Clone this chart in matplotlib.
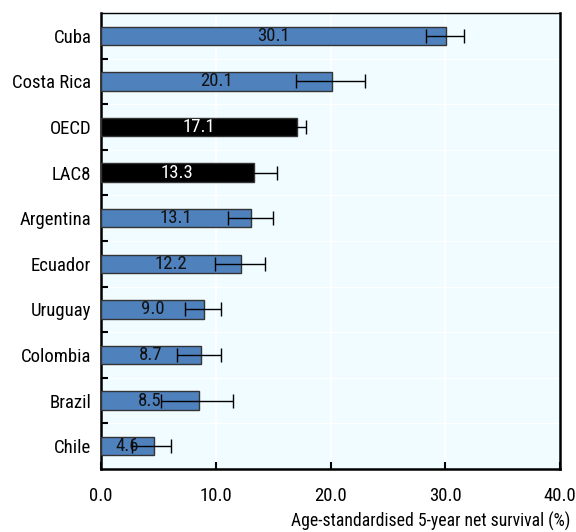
import matplotlib
matplotlib.use("Agg")
import matplotlib.pyplot as plt
from matplotlib.ticker import FixedLocator, FormatStrFormatter

countries = ["Cuba", "Costa Rica", "OECD", "LAC8", "Argentina",
             "Ecuador", "Uruguay", "Colombia", "Brazil", "Chile"]
survival = [30.1, 20.1, 17.1, 13.3, 13.1, 12.2, 9.0, 8.7, 8.5, 4.6]
ci_low = [28.3, 17.0, 16.3, 11.3, 11.1, 9.9, 7.3, 6.6, 5.2, 2.7]
ci_high = [31.6, 23.0, 17.9, 15.3, 15.0, 14.3, 10.5, 10.5, 11.5, 6.1]
aggregates = ["OECD", "LAC8"]

plt.rcParams["font.family"] = ["Roboto Condensed", "Liberation Sans Narrow",
                               "Liberation Sans", "DejaVu Sans"]
plt.rcParams["font.stretch"] = "condensed"

fig = plt.figure(figsize=(5.76, 5.32), dpi=100)
ax = fig.add_axes([101 / 576, 1 - 469 / 532, 459 / 576, 456 / 532])
ax.set_facecolor("#F0FCFF")

ypos = list(range(len(countries)))
colors = ["black" if c in aggregates else "#4F81BD" for c in countries]
ax.barh(ypos, survival, height=0.4, color=colors, edgecolor="#333333",
        linewidth=1.0, zorder=3)

xerr = [[v - lo for v, lo in zip(survival, ci_low)],
        [hi - v for v, hi in zip(survival, ci_high)]]
ax.errorbar(survival, ypos, xerr=xerr, fmt="none", ecolor="black",
            elinewidth=1.0, capsize=5, capthick=1.0, zorder=4)

for y, v, c in zip(ypos, survival, countries):
    ax.text(v / 2, y, f"{v:.1f}", ha="center", va="center", fontsize=13.5,
            color="white" if c in aggregates else "#111111", zorder=5)

ax.set_xlim(0, 40)
ax.set_ylim(len(countries) - 0.5, -0.5)

# white grid at decades and between categories
for gx in (10, 20, 30):
    ax.axvline(gx, color="white", linewidth=1.2, zorder=1)
for gy in [i + 0.5 for i in range(len(countries) - 1)]:
    ax.axhline(gy, color="white", linewidth=0.8, zorder=1)

ax.set_yticks(ypos)
ax.set_yticklabels(countries, fontsize=13.5)
ax.tick_params(axis="y", which="major", length=0, pad=7)
ax.yaxis.set_minor_locator(FixedLocator([i + 0.5 for i in range(len(countries) - 1)]))
ax.tick_params(axis="y", which="minor", direction="in", length=5, width=1.5)

ax.xaxis.set_major_locator(FixedLocator([0, 10, 20, 30, 40]))
ax.xaxis.set_major_formatter(FormatStrFormatter("%.1f"))
ax.tick_params(axis="x", which="major", direction="in", length=5, width=1.5,
               labelsize=13.5, pad=13)

for side in ("left", "bottom", "right"):
    ax.spines[side].set_linewidth(1.8)
ax.spines["top"].set_linewidth(1.0)

fig.text(570 / 576, 1 - 521 / 532, "Age-standardised 5-year net survival (%)",
         ha="right", va="center", fontsize=12.7)

fig.savefig("out.png", dpi=100)
